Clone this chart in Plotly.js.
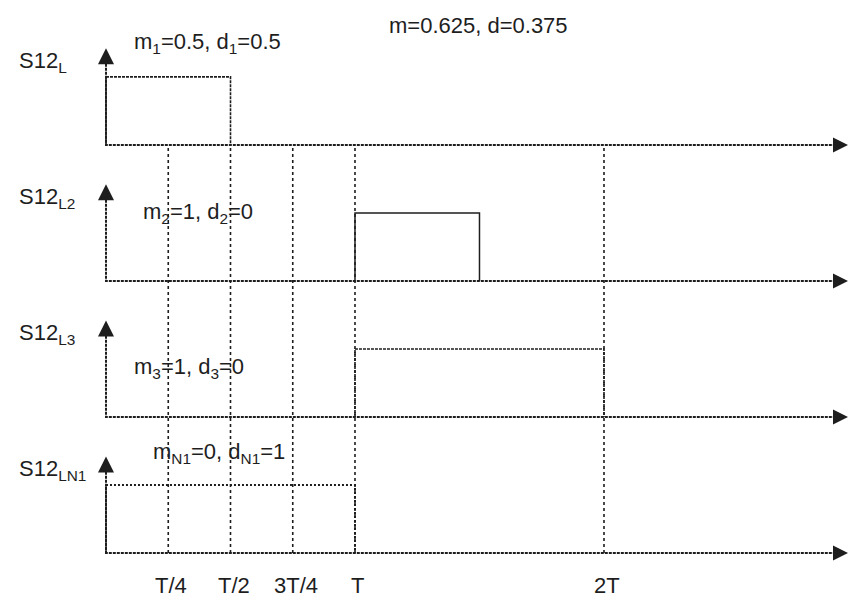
<!DOCTYPE html>
<html>
<head>
<meta charset="utf-8">
<script src="https://cdn.plot.ly/plotly-3.0.1.min.js"></script>
<style>html,body{margin:0;padding:0;background:#fff;}#chart{width:850px;height:603px;}</style>
</head>
<body>
<div id="chart"></div>
<script>
// ---- data ----
const tickVals = [0.25, 0.5, 0.75, 1, 2];          // time marks, in units of T
const tickText = ['T/4', 'T/2', '3T/4', 'T', '2T'];
const rowNames = ['S12<sub>L</sub>', 'S12<sub>L2</sub>', 'S12<sub>L3</sub>', 'S12<sub>LN1</sub>'];
const pulseStart = [0, 1, 1, 0];                   // pulse rising edge (T units)
const pulseEnd = [0.5, 1.5, 2, 1];                 // pulse falling edge (T units)
const pulseLevel = [1, 1, 1, 1];                   // pulse amplitude
const rowNotes = ['m<sub>1</sub>=0.5, d<sub>1</sub>=0.5',
                  'm<sub>2</sub>=1, d<sub>2</sub>=0',
                  'm<sub>3</sub>=1, d<sub>3</sub>=0',
                  'm<sub>N1</sub>=0, d<sub>N1</sub>=1'];
const overallNote = 'm=0.625, d=0.375';

// ---- layout helpers ----
const FONT = "'Liberation Sans', Arial, sans-serif";
const FS = 22;
const INK = '#1e1e1e';
const rowBase = [6, 4, 2, 0];
const axisTop = 1.42, axisEnd = 2.98;
const pulseDash = ['3px,1px', 'solid', '3px,1px', '2px,2px'];
const pulseWidth = [1.6, 1.5, 1.6, 2];
const noteX = [0.406, 0.37, 0.335, 0.455];
const noteDy = [1.5, 1.0, 0.72, 1.47];

const traces = [];
// guide lines
const gx = [], gy = [];
tickVals.forEach(v => { gx.push(v, v, null); gy.push(rowBase[3], rowBase[0], null); });
traces.push({x: gx, y: gy, mode: 'lines', line: {color: INK, width: 1.6, dash: '3px,3px'}, hoverinfo: 'skip'});

rowBase.forEach((b, i) => {
  // axes
  traces.push({x: [0, 0, axisEnd - 0.02], y: [b + axisTop - 0.05, b, b], mode: 'lines',
    line: {color: INK, width: 2, dash: '3px,1px'}, hoverinfo: 'skip'});
  // pulse
  traces.push({x: [pulseStart[i], pulseStart[i], pulseEnd[i], pulseEnd[i]],
    y: [b, b + pulseLevel[i], b + pulseLevel[i], b], mode: 'lines',
    line: {color: INK, width: pulseWidth[i], dash: pulseDash[i]}, hoverinfo: 'skip'});
  // arrowheads
  traces.push({x: [0], y: [b + axisTop], mode: 'markers',
    marker: {symbol: 'arrow-up', size: 16, color: INK}, hoverinfo: 'skip'});
  traces.push({x: [axisEnd], y: [b], mode: 'markers',
    marker: {symbol: 'arrow-right', size: 15, color: INK}, hoverinfo: 'skip'});
});

const annotations = [];
rowNames.forEach((t, i) => annotations.push({x: -0.357, y: rowBase[i] + 1.22, text: t, xanchor: 'left', yanchor: 'middle',
  showarrow: false, font: {family: FONT, size: FS, color: INK}}));
rowNotes.forEach((t, i) => annotations.push({x: noteX[i], y: rowBase[i] + noteDy[i], text: t, xanchor: 'center', yanchor: 'middle',
  showarrow: false, font: {family: FONT, size: FS, color: INK}}));
annotations.push({x: 1.494, y: 7.76, text: overallNote, xanchor: 'center', yanchor: 'middle',
  showarrow: false, font: {family: FONT, size: FS, color: INK}});
tickVals.forEach((v, i) => annotations.push({x: v, y: -0.485, text: tickText[i], xanchor: 'center', yanchor: 'middle',
  xshift: 3, showarrow: false, font: {family: FONT, size: FS, color: INK}}));

const layout = {
  width: 850, height: 603,
  margin: {l: 0, r: 0, t: 0, b: 0},
  paper_bgcolor: '#fff', plot_bgcolor: '#fff',
  showlegend: false,
  xaxis: {range: [-0.4257, 2.988], visible: false, fixedrange: true},
  yaxis: {range: [-0.735, 8.13], visible: false, fixedrange: true},
  annotations: annotations
};
Plotly.newPlot('chart', traces, layout, {staticPlot: true, displayModeBar: false});
</script>
</body>
</html>
